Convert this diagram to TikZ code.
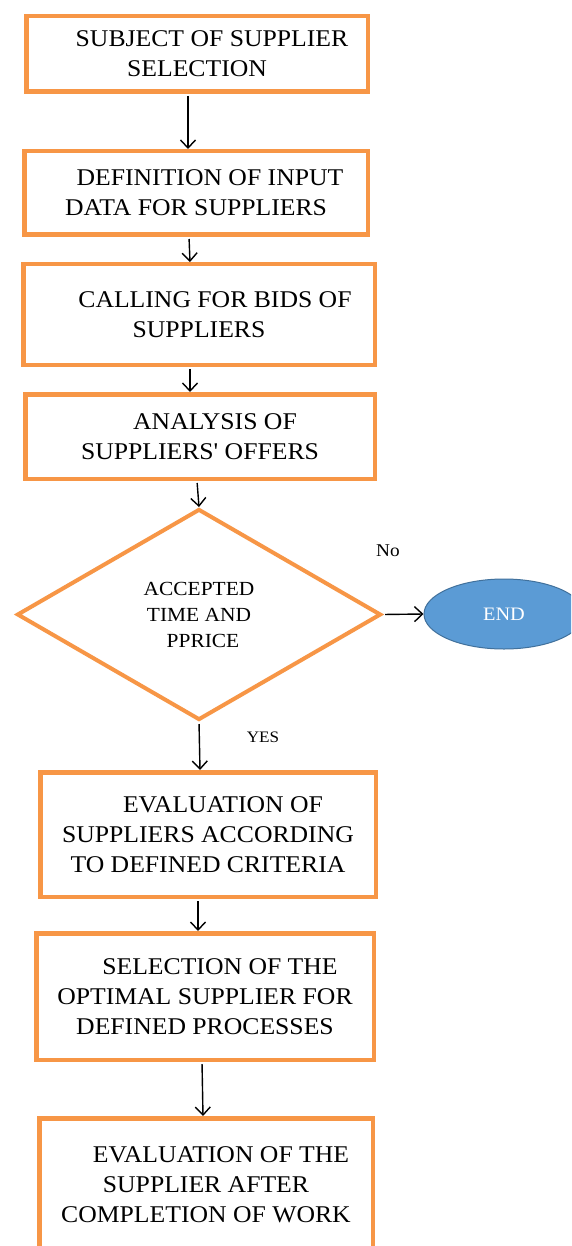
\documentclass[tikz,border=0pt]{standalone}
\usepackage{fontspec}
\setmainfont{Liberation Serif}[FakeStretch=1.07,Ligatures=TeXOff]
\usetikzlibrary{arrows.meta,shapes.geometric,calc}
\definecolor{orng}{HTML}{F79646}
\definecolor{endfill}{HTML}{5B9BD5}
\definecolor{enddraw}{HTML}{41719C}
\begin{document}
\begin{tikzpicture}[x=1pt,y=-1pt,
  box/.style={draw=orng, line width=4.5pt, fill=white, rectangle, inner sep=0pt,
    align=center, font=\fontsize{24}{30}\selectfont},
  decision/.style={draw=orng, line width=4pt, diamond, inner sep=0pt,
    align=center, font=\fontsize{20}{26}\selectfont},
  terminal/.style={draw=enddraw, line width=1pt, fill=endfill, ellipse, inner sep=0pt,
    text=white, font=\fontsize{19}{22}\selectfont},
  lbl/.style={inner sep=0pt, font=\fontsize{18}{20}\selectfont},
  arr/.style={draw=black, line width=1.4pt, shorten <=2pt,
    -{Straight Barb[length=8pt,width=15pt,line width=1.4pt]}}
]
\useasboundingbox (0,0) rectangle (571,1246);
\clip (0,0) rectangle (571,1246);
\fill[white] (0,0) rectangle (571,1246);

\node[box, minimum width=341.5pt, minimum height=75.5pt] (b1) at (197,54)
  {\hspace*{30pt}SUBJECT OF SUPPLIER\\SELECTION};
\node[box, minimum width=343.5pt, minimum height=83.5pt] (b2) at (196,193)
  {\hspace*{28pt}DEFINITION OF INPUT\\DATA FOR SUPPLIERS};
\node[box, minimum width=351.5pt, minimum height=100.5pt] (b3) at (199,314.5)
  {\hspace*{32pt}CALLING FOR BIDS OF\\SUPPLIERS};
\node[box, minimum width=349.5pt, minimum height=84.5pt] (b4) at (200,436.5)
  {\hspace*{30pt}ANALYSIS OF\\SUPPLIERS' OFFERS};
\node[decision, minimum width=364pt, minimum height=211pt] (d) at (199,614.5)
  {ACCEPTED\\TIME AND\\\hspace*{8pt}PPRICE};
\node[terminal, minimum width=160pt, minimum height=70pt] (e) at (504,614) {END};
\node[box, minimum width=335.5pt, minimum height=124.5pt] (b5) at (208,834.5)
  {\hspace*{30pt}EVALUATION OF\\SUPPLIERS ACCORDING\\TO DEFINED CRITERIA};
\node[box, minimum width=337.5pt, minimum height=126.5pt] (b6) at (205,996.5)
  {\hspace*{30pt}SELECTION OF THE\\OPTIMAL SUPPLIER FOR\\DEFINED PROCESSES};
\node[box, minimum width=333.5pt, minimum height=133.5pt] (b7) at (206,1185)
  {\hspace*{30pt}EVALUATION OF THE\\SUPPLIER AFTER\\COMPLETION OF WORK};

\node[lbl] (no) at (388,551) {No};
\node[lbl, font=\fontsize{16}{18}\selectfont] (yes) at (263,737) {YES};

\draw[arr] ($(b1.south)+(-9,0)$) -- ($(b2.north)+(-8,0)$);
\draw[arr] ($(b2.south)+(-7,0)$) -- ($(b3.north)+(-9,0)$);
\draw[arr] ($(b3.south)+(-9,0)$) -- ($(b4.north)+(-10,0)$);
\draw[arr] ($(b4.south)+(-3,0)$) -- (d.north);
\draw[arr] (d.east) -- (e.west);
\draw[arr] (d.south) -- ($(b5.north)+(-8,0)$);
\draw[arr] ($(b5.south)+(-10,0)$) -- ($(b6.north)+(-7,0)$);
\draw[arr] ($(b6.south)+(-3,0)$) -- ($(b7.north)+(-3,0)$);
\end{tikzpicture}
\end{document}
